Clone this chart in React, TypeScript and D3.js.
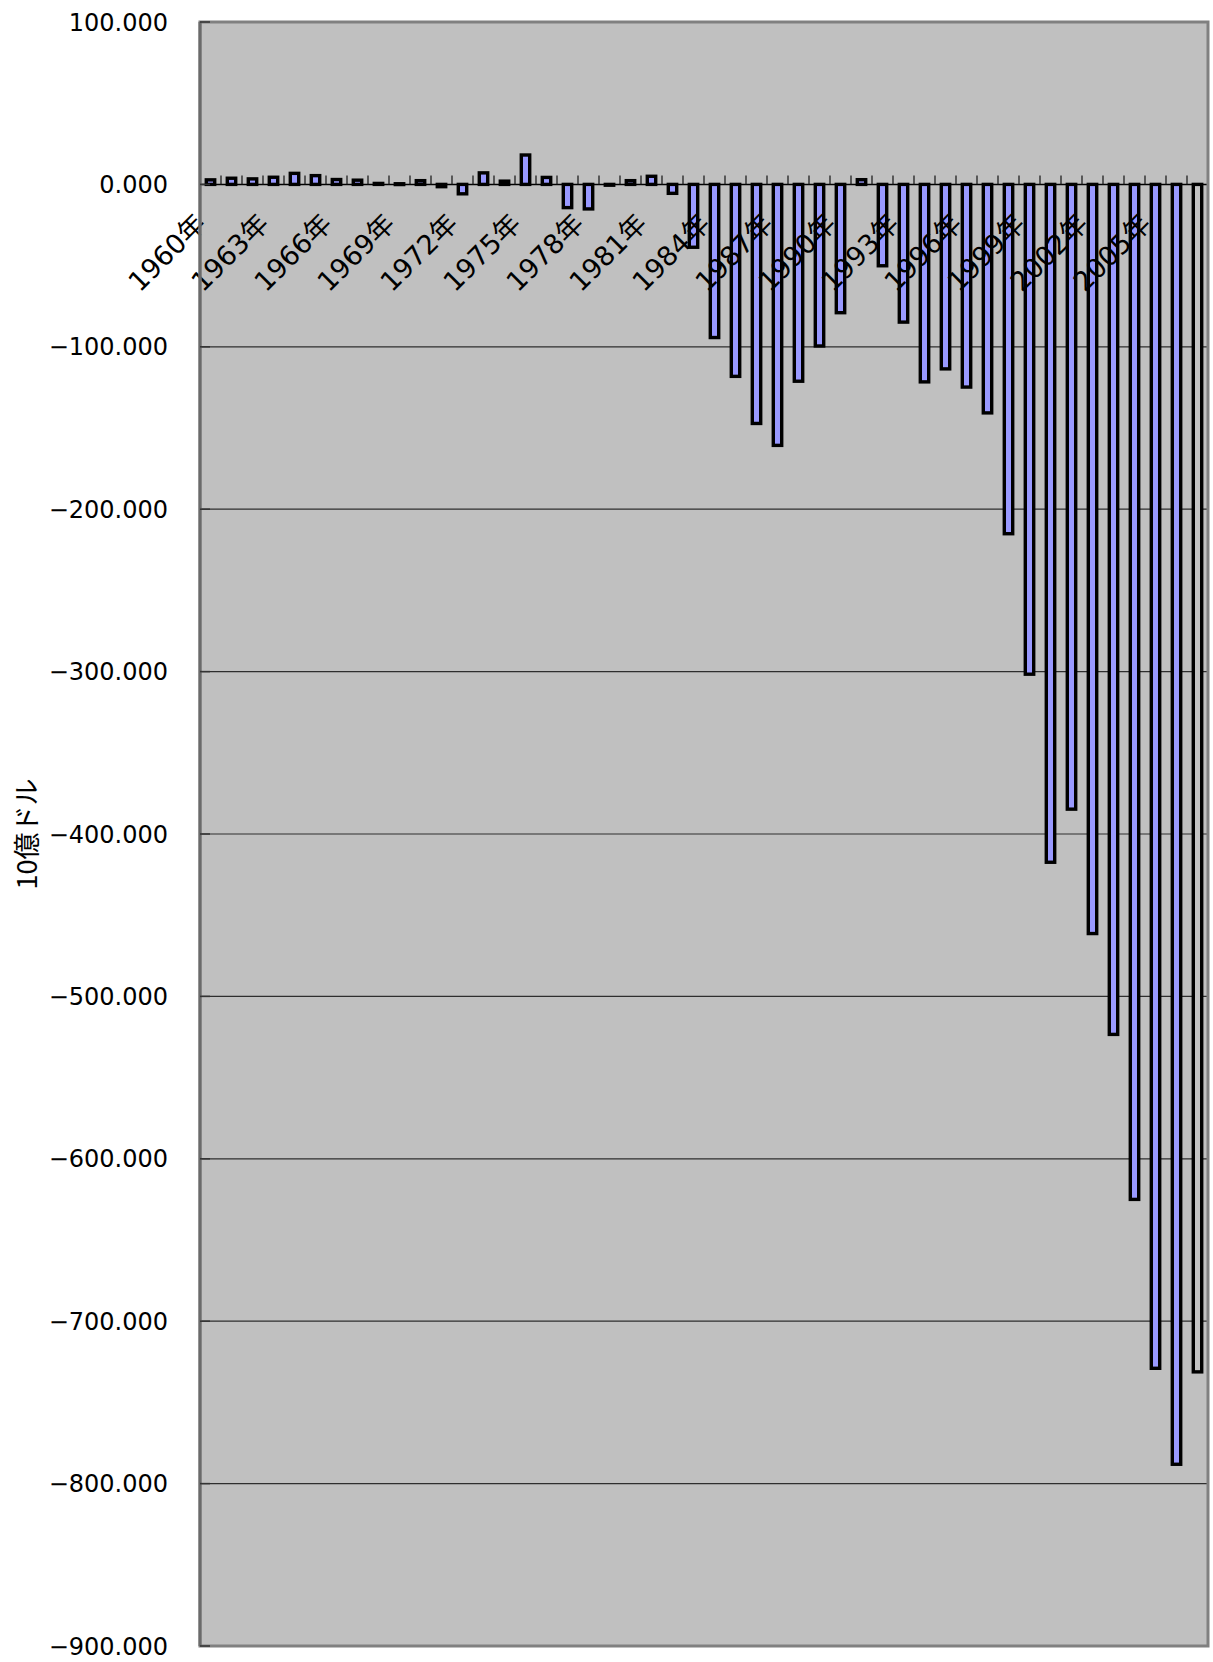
import React, { useEffect, useRef } from 'react';
import * as d3 from 'd3';

// US current account balance, 1960-2007 (billions of dollars)
const years = [
  '1960年', '1961年', '1962年', '1963年', '1964年', '1965年', '1966年', '1967年',
  '1968年', '1969年', '1970年', '1971年', '1972年', '1973年', '1974年', '1975年',
  '1976年', '1977年', '1978年', '1979年', '1980年', '1981年', '1982年', '1983年',
  '1984年', '1985年', '1986年', '1987年', '1988年', '1989年', '1990年', '1991年',
  '1992年', '1993年', '1994年', '1995年', '1996年', '1997年', '1998年', '1999年',
  '2000年', '2001年', '2002年', '2003年', '2004年', '2005年', '2006年', '2007年',
];

const balance = [
  2.8, 3.8, 3.4, 4.4, 6.8, 5.4, 3.0, 2.6,
  0.6, 0.4, 2.3, -1.4, -5.8, 7.1, 2.0, 18.1,
  4.3, -14.3, -15.1, -0.3, 2.3, 5.0, -5.5, -38.7,
  -94.3, -118.2, -147.2, -160.7, -121.2, -99.5, -79.0, 2.9,
  -50.1, -84.8, -121.6, -113.6, -124.8, -140.7, -215.1, -301.6,
  -417.4, -384.7, -461.3, -523.4, -625.0, -729.0, -788.1, -731.2,
];

const yTicks = [100, 0, -100, -200, -300, -400, -500, -600, -700, -800, -900];
const yTickLabels = [
  '100.000', '0.000', '−100.000', '−200.000', '−300.000', '−400.000',
  '−500.000', '−600.000', '−700.000', '−800.000', '−900.000',
];

const yTitle = '10億ドル';
const unfilledYear = '2007年'; // last bar is drawn without fill

const WIDTH = 1213;
const HEIGHT = 1662;
const LATIN = "'DejaVu Sans', 'Noto Sans CJK JP', sans-serif";
const CJK = "'Noto Sans CJK JP', 'DejaVu Sans', sans-serif";

const App: React.FC = () => {
  const svgRef = useRef<SVGSVGElement | null>(null);

  useEffect(() => {
    const svgEl = svgRef.current;
    if (!svgEl) return;

    const left = 200;
    const right = 1208;
    const top = 22;
    const bottom = 1646;

    const x = d3.scaleBand<string>()
      .domain(years)
      .range([left, right])
      .paddingInner(0.6)
      .paddingOuter(0.3);

    const y = d3.scaleLinear().domain([-900, 100]).range([bottom, top]);

    const svg = d3.select(svgEl);
    svg.selectAll('*').remove();

    // plot area background
    svg.append('rect')
      .attr('x', left)
      .attr('y', top)
      .attr('width', right - left)
      .attr('height', bottom - top)
      .attr('fill', '#c0c0c0');

    // gridlines
    svg.append('g')
      .selectAll('line')
      .data(yTicks.filter((t) => t !== 0 && t !== 100 && t !== -900))
      .join('line')
      .attr('x1', left)
      .attr('x2', right)
      .attr('y1', (d) => y(d))
      .attr('y2', (d) => y(d))
      .attr('stroke', '#2e2e2e')
      .attr('stroke-width', 1.2);

    // bars
    const y0 = y(0);
    svg.append('g')
      .selectAll('rect')
      .data(years.map((yr, i) => ({ yr, v: balance[i] })))
      .join('rect')
      .attr('x', (d) => x(d.yr) as number)
      .attr('width', x.bandwidth())
      .attr('y', (d) => y(Math.max(0, d.v)))
      .attr('height', (d) => Math.max(0.8, Math.abs(y(d.v) - y0)))
      .attr('fill', (d) => (d.yr === unfilledYear ? '#c4c4c4' : '#9999ff'))
      .attr('stroke', '#000')
      .attr('stroke-width', 3.4);

    // category axis at zero
    svg.append('line')
      .attr('x1', left)
      .attr('x2', right)
      .attr('y1', y0)
      .attr('y2', y0)
      .attr('stroke', '#000')
      .attr('stroke-width', 1.5);

    const step = x.step();
    const boundaries = years.map((d) => (x(d) as number) - step * 0.3).concat([right]);
    svg.append('g')
      .selectAll('line')
      .data(boundaries)
      .join('line')
      .attr('x1', (d) => d)
      .attr('x2', (d) => d)
      .attr('y1', y0)
      .attr('y2', y0 - 9)
      .attr('stroke', '#111')
      .attr('stroke-width', 1.2);

    // category labels, every third year
    svg.append('g')
      .selectAll('text')
      .data(years.filter((_, i) => i % 3 === 0))
      .join('text')
      .attr('transform', (d) => {
        const cx = (x(d) as number) + x.bandwidth() / 2 - 3;
        return `translate(${cx},${y0 + 41}) rotate(-45)`;
      })
      .attr('text-anchor', 'end')
      .attr('font-family', LATIN)
      .attr('font-size', 27)
      .attr('fill', '#000')
      .text((d) => d);

    // plot border
    svg.append('rect')
      .attr('x', left)
      .attr('y', top)
      .attr('width', right - left)
      .attr('height', bottom - top)
      .attr('fill', 'none')
      .attr('stroke', '#808080')
      .attr('stroke-width', 3);

    // value axis
    svg.append('line')
      .attr('x1', left)
      .attr('x2', left)
      .attr('y1', top)
      .attr('y2', bottom)
      .attr('stroke', '#6a6a6a')
      .attr('stroke-width', 3);

    svg.append('g')
      .selectAll('line')
      .data(yTicks)
      .join('line')
      .attr('x1', left)
      .attr('x2', left + 10)
      .attr('y1', (d) => y(d))
      .attr('y2', (d) => y(d))
      .attr('stroke', '#333')
      .attr('stroke-width', 1.5);

    svg.append('g')
      .selectAll('text')
      .data(yTicks)
      .join('text')
      .attr('x', 168)
      .attr('y', (d) => y(d))
      .attr('dy', '0.36em')
      .attr('text-anchor', 'end')
      .attr('font-family', LATIN)
      .attr('font-size', 24)
      .attr('fill', '#000')
      .text((_, i) => yTickLabels[i]);

    // axis title
    svg.append('text')
      .attr('transform', `translate(37,${(top + bottom) / 2}) rotate(-90)`)
      .attr('text-anchor', 'middle')
      .attr('font-family', CJK)
      .attr('font-size', 27)
      .attr('fill', '#000')
      .text(yTitle);
  }, []);

  return (
    <svg
      ref={svgRef}
      width={WIDTH}
      height={HEIGHT}
      style={{ position: 'absolute', left: 0, top: 0, background: '#fff' }}
      role="img"
      aria-label="US current account balance"
    />
  );
};

export default App;
